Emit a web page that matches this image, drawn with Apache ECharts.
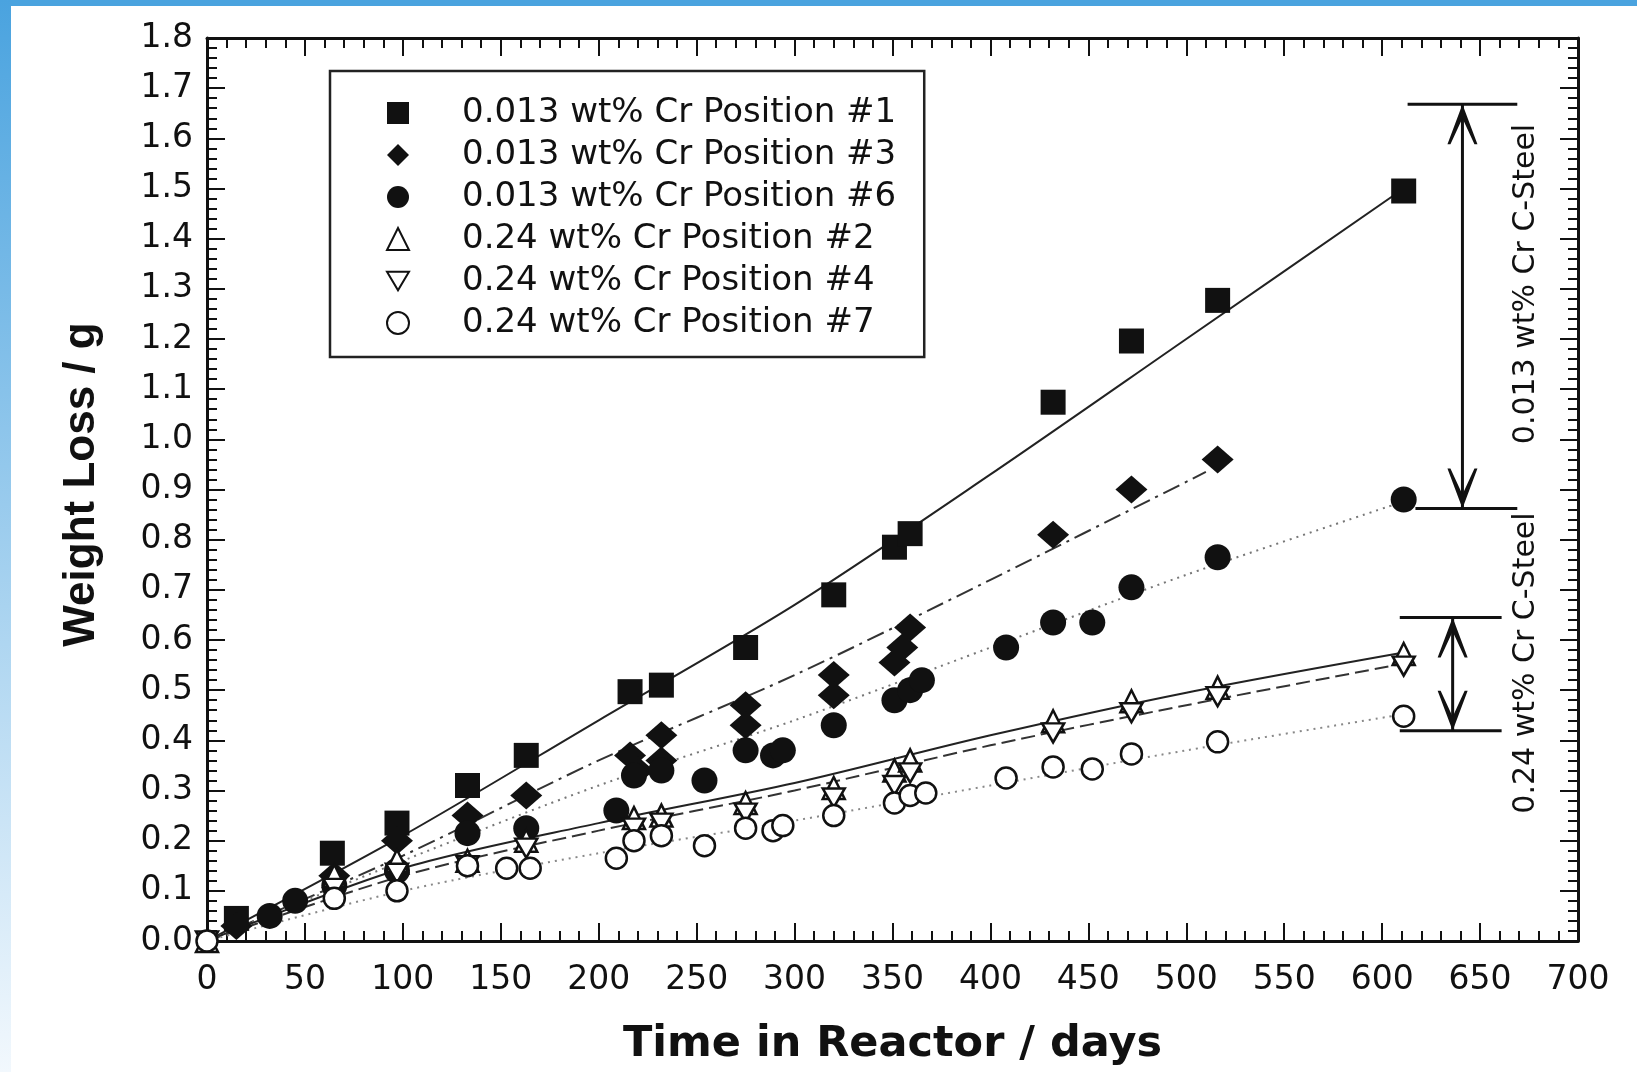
<!DOCTYPE html>
<html>
<head>
<meta charset="utf-8">
<title>Weight Loss vs Time in Reactor</title>
<script src="https://cdn.jsdelivr.net/npm/echarts@6/dist/echarts.min.js"></script>
<style>
  html, body { margin: 0; padding: 0; background: #fff; }
  #chart { width: 1637px; height: 1072px; }
</style>
</head>
<body>
<div id="chart"></div>
<script>
// measured points, [days, weight loss in g]
var pos1 = [[15, 0.045], [64, 0.175], [97, 0.235], [133, 0.31], [163, 0.37], [216, 0.497], [232, 0.51],
  [275, 0.585], [320, 0.69], [351, 0.785], [359, 0.812], [432, 1.074], [472, 1.196], [516, 1.277], [611, 1.495]];
var pos3 = [[15, 0.03], [65, 0.13], [97, 0.2], [133, 0.25], [163, 0.29], [216, 0.37], [220, 0.34],
  [232, 0.41], [232, 0.36], [275, 0.47], [275, 0.43], [320, 0.53], [320, 0.49], [351, 0.555], [355, 0.585],
  [359, 0.625], [432, 0.81], [472, 0.9], [516, 0.96]];
var pos6 = [[32, 0.05], [45, 0.08], [65, 0.11], [97, 0.14], [133, 0.215], [163, 0.225], [209, 0.26], [218, 0.33],
  [232, 0.34], [254, 0.32], [275, 0.38], [289, 0.37], [294, 0.38], [320, 0.43], [351, 0.48], [359, 0.5],
  [365, 0.52], [408, 0.585], [432, 0.635], [452, 0.635], [472, 0.705], [516, 0.765], [611, 0.88]];
var pos2 = [[0, 0], [65, 0.13], [97, 0.16], [133, 0.16], [163, 0.2], [218, 0.245], [232, 0.25], [275, 0.275],
  [320, 0.305], [351, 0.34], [359, 0.36], [432, 0.438], [472, 0.478], [516, 0.505], [611, 0.572]];
var pos4 = [[0, 0], [65, 0.105], [97, 0.135], [133, 0.15], [163, 0.185], [218, 0.225], [232, 0.235], [275, 0.255],
  [320, 0.285], [351, 0.31], [359, 0.335], [432, 0.415], [472, 0.455], [516, 0.487], [611, 0.548]];
var pos7 = [[0, 0], [65, 0.085], [97, 0.1], [133, 0.15], [153, 0.145], [165, 0.145], [209, 0.165], [218, 0.2],
  [232, 0.21], [254, 0.19], [275, 0.225], [289, 0.22], [294, 0.23], [320, 0.25], [351, 0.275], [359, 0.29],
  [367, 0.295], [408, 0.325], [432, 0.347], [452, 0.343], [472, 0.373], [516, 0.397], [611, 0.448]];

// fitted curves
var fit1 = [[0, 0], [100, 0.21], [200, 0.44], [300, 0.67], [400, 0.93], [500, 1.2], [611, 1.5]];
var fit3 = [[0, 0], [100, 0.17], [200, 0.36], [300, 0.53], [400, 0.72], [510, 0.935]];
var fit6 = [[0, 0], [100, 0.16], [200, 0.31], [300, 0.44], [400, 0.585], [500, 0.73], [611, 0.876]];
var fit2 = [[0, 0], [100, 0.145], [200, 0.235], [300, 0.315], [400, 0.41], [500, 0.495], [611, 0.575]];
var fit4 = [[0, 0], [100, 0.13], [200, 0.22], [300, 0.3], [400, 0.39], [500, 0.47], [611, 0.553]];
var fit7 = [[0, 0], [100, 0.1], [200, 0.175], [300, 0.24], [400, 0.31], [500, 0.38], [611, 0.452]];

// range bars on the right: [x from, x to, y]
var rangeHigh = [[613, 669, 1.668], [617, 669, 0.862]];
var rangeLow = [[609, 661, 0.645], [609, 661, 0.419]];
var arrowX = [641, 636];

var names = [
  '0.013 wt% Cr Position #1',
  '0.013 wt% Cr Position #3',
  '0.013 wt% Cr Position #6',
  '0.24 wt% Cr Position #2',
  '0.24 wt% Cr Position #4',
  '0.24 wt% Cr Position #7'
];

var chart = echarts.init(document.getElementById('chart'));
var ink = '#111';
var arrowHead = 'path://M10,0 L20,40 L18,40 L10,14 L2,40 L0,40 Z';
var downTriangle = 'path://M0,0 L20,0 L10,17 Z';

var axisCommon = function () {
  return {
    type: 'value',
    axisLine: { show: true, onZero: false, lineStyle: { color: ink, width: 3 } },
    axisTick: { show: true, inside: true, length: 18, lineStyle: { color: ink, width: 2 } },
    minorTick: { show: true, splitNumber: 5, length: 10, lineStyle: { color: ink, width: 2 } },
    splitLine: { show: false }
  };
};

var xBottom = Object.assign(axisCommon(), {
  position: 'bottom', min: 0, max: 700, interval: 50,
  axisLabel: { margin: 23, color: ink, fontFamily: 'DejaVu Sans', fontSize: 33 },
  name: 'Time in Reactor / days', nameLocation: 'middle', nameGap: 82,
  nameTextStyle: { color: ink, fontFamily: 'DejaVu Sans', fontWeight: 'bold', fontSize: 43 }
});
var xTop = Object.assign(axisCommon(), {
  position: 'top', min: 0, max: 700, interval: 50, axisLabel: { show: false }
});
var yLeft = Object.assign(axisCommon(), {
  position: 'left', min: 0, max: 1.8, interval: 0.1,
  axisLabel: {
    margin: 14, color: ink, fontFamily: 'DejaVu Sans', fontSize: 33,
    formatter: function (v) { return v.toFixed(1); }
  },
  name: 'Weight Loss / g', nameLocation: 'middle', nameGap: 103,
  nameTextStyle: {
    color: ink, fontFamily: 'Liberation Sans', fontWeight: 'bold', fontSize: 44, padding: [0, 0, 0, 10]
  }
});
var yRight = Object.assign(axisCommon(), {
  position: 'right', min: 0, max: 1.8, interval: 0.1, axisLabel: { show: false }
});

var fitLine = function (data, type, color) {
  return {
    type: 'line', data: data, smooth: 0.3, showSymbol: false, silent: true, z: 1,
    lineStyle: { color: color, width: 2, type: type }
  };
};

var marks = function (name, data, symbol, size, filled) {
  return {
    name: name, type: 'scatter', data: data, symbol: symbol, symbolSize: size, z: 3,
    itemStyle: filled
      ? { color: ink, opacity: 1 }
      : { color: '#fff', borderColor: ink, borderWidth: 2.5, opacity: 1 }
  };
};

var segment = function (a, b) {
  return {
    type: 'line', data: [a, b], showSymbol: false, silent: true, z: 2,
    lineStyle: { color: ink, width: 3 }
  };
};

var arrow = function (x, yTop, yBottom) {
  return {
    type: 'line', silent: true, z: 2, symbol: arrowHead, symbolSize: [30, 40],
    lineStyle: { color: ink, width: 3 }, itemStyle: { color: ink },
    data: [
      { value: [x, yTop], symbolOffset: [0, '50%'] },
      { value: [x, yBottom], symbolRotate: 180, symbolOffset: [0, '-50%'] }
    ]
  };
};

var series = [
  fitLine(fit1, 'solid', '#222'),
  fitLine(fit3, [18, 6, 3, 6], '#333'),
  fitLine(fit6, [2, 5], '#777'),
  fitLine(fit2, 'solid', '#222'),
  fitLine(fit4, [14, 6], '#333'),
  fitLine(fit7, [2, 5], '#888'),
  marks(names[0], pos1, 'rect', 25, true),
  marks(names[1], pos3, 'diamond', [32, 28], true),
  marks(names[2], pos6, 'circle', 26, true),
  marks(names[3], pos2, 'triangle', 22, false),
  marks(names[4], pos4, downTriangle, [22, 19], false),
  marks(names[5], pos7, 'circle', 21, false)
];
rangeHigh.concat(rangeLow).forEach(function (r) {
  series.push(segment([r[0], r[2]], [r[1], r[2]]));
});
series.push(arrow(arrowX[0], rangeHigh[0][2], rangeHigh[1][2]));
series.push(arrow(arrowX[1], rangeLow[0][2], rangeLow[1][2]));

var option = {
  backgroundColor: '#fff',
  animation: false,
  grid: { left: 207, right: 59, top: 38, bottom: 131 },
  xAxis: [xBottom, xTop],
  yAxis: [yLeft, yRight],
  legend: {
    data: names,
    orient: 'vertical',
    left: 330, top: 71,
    padding: [25, 28, 17, 56],
    itemWidth: 22, itemHeight: 22, itemGap: 8,
    borderColor: '#222', borderWidth: 2.5,
    selectedMode: false,
    textStyle: { color: ink, fontFamily: 'DejaVu Sans', fontSize: 34, lineHeight: 34, padding: [0, 0, 0, 48] }
  },
  graphic: [
    { type: 'rect', shape: { x: 0, y: 0, width: 1637, height: 6 }, style: { fill: '#4aa3df' } },
    {
      type: 'rect', shape: { x: 0, y: 0, width: 11, height: 1072 },
      style: {
        fill: new echarts.graphic.LinearGradient(0, 0, 0, 1, [
          { offset: 0, color: '#4aa3df' },
          { offset: 1, color: '#f2f8fd' }
        ])
      }
    },
    {
      type: 'text', x: 1526, y: 284, rotation: Math.PI / 2,
      style: { text: '0.013 wt% Cr C-Steel', fill: ink, font: '30px "DejaVu Sans"', align: 'center', verticalAlign: 'middle' }
    },
    {
      type: 'text', x: 1526, y: 663, rotation: Math.PI / 2,
      style: { text: '0.24 wt% Cr C-Steel', fill: ink, font: '30px "DejaVu Sans"', align: 'center', verticalAlign: 'middle' }
    }
  ],
  series: series
};

chart.setOption(option);
</script>
</body>
</html>
